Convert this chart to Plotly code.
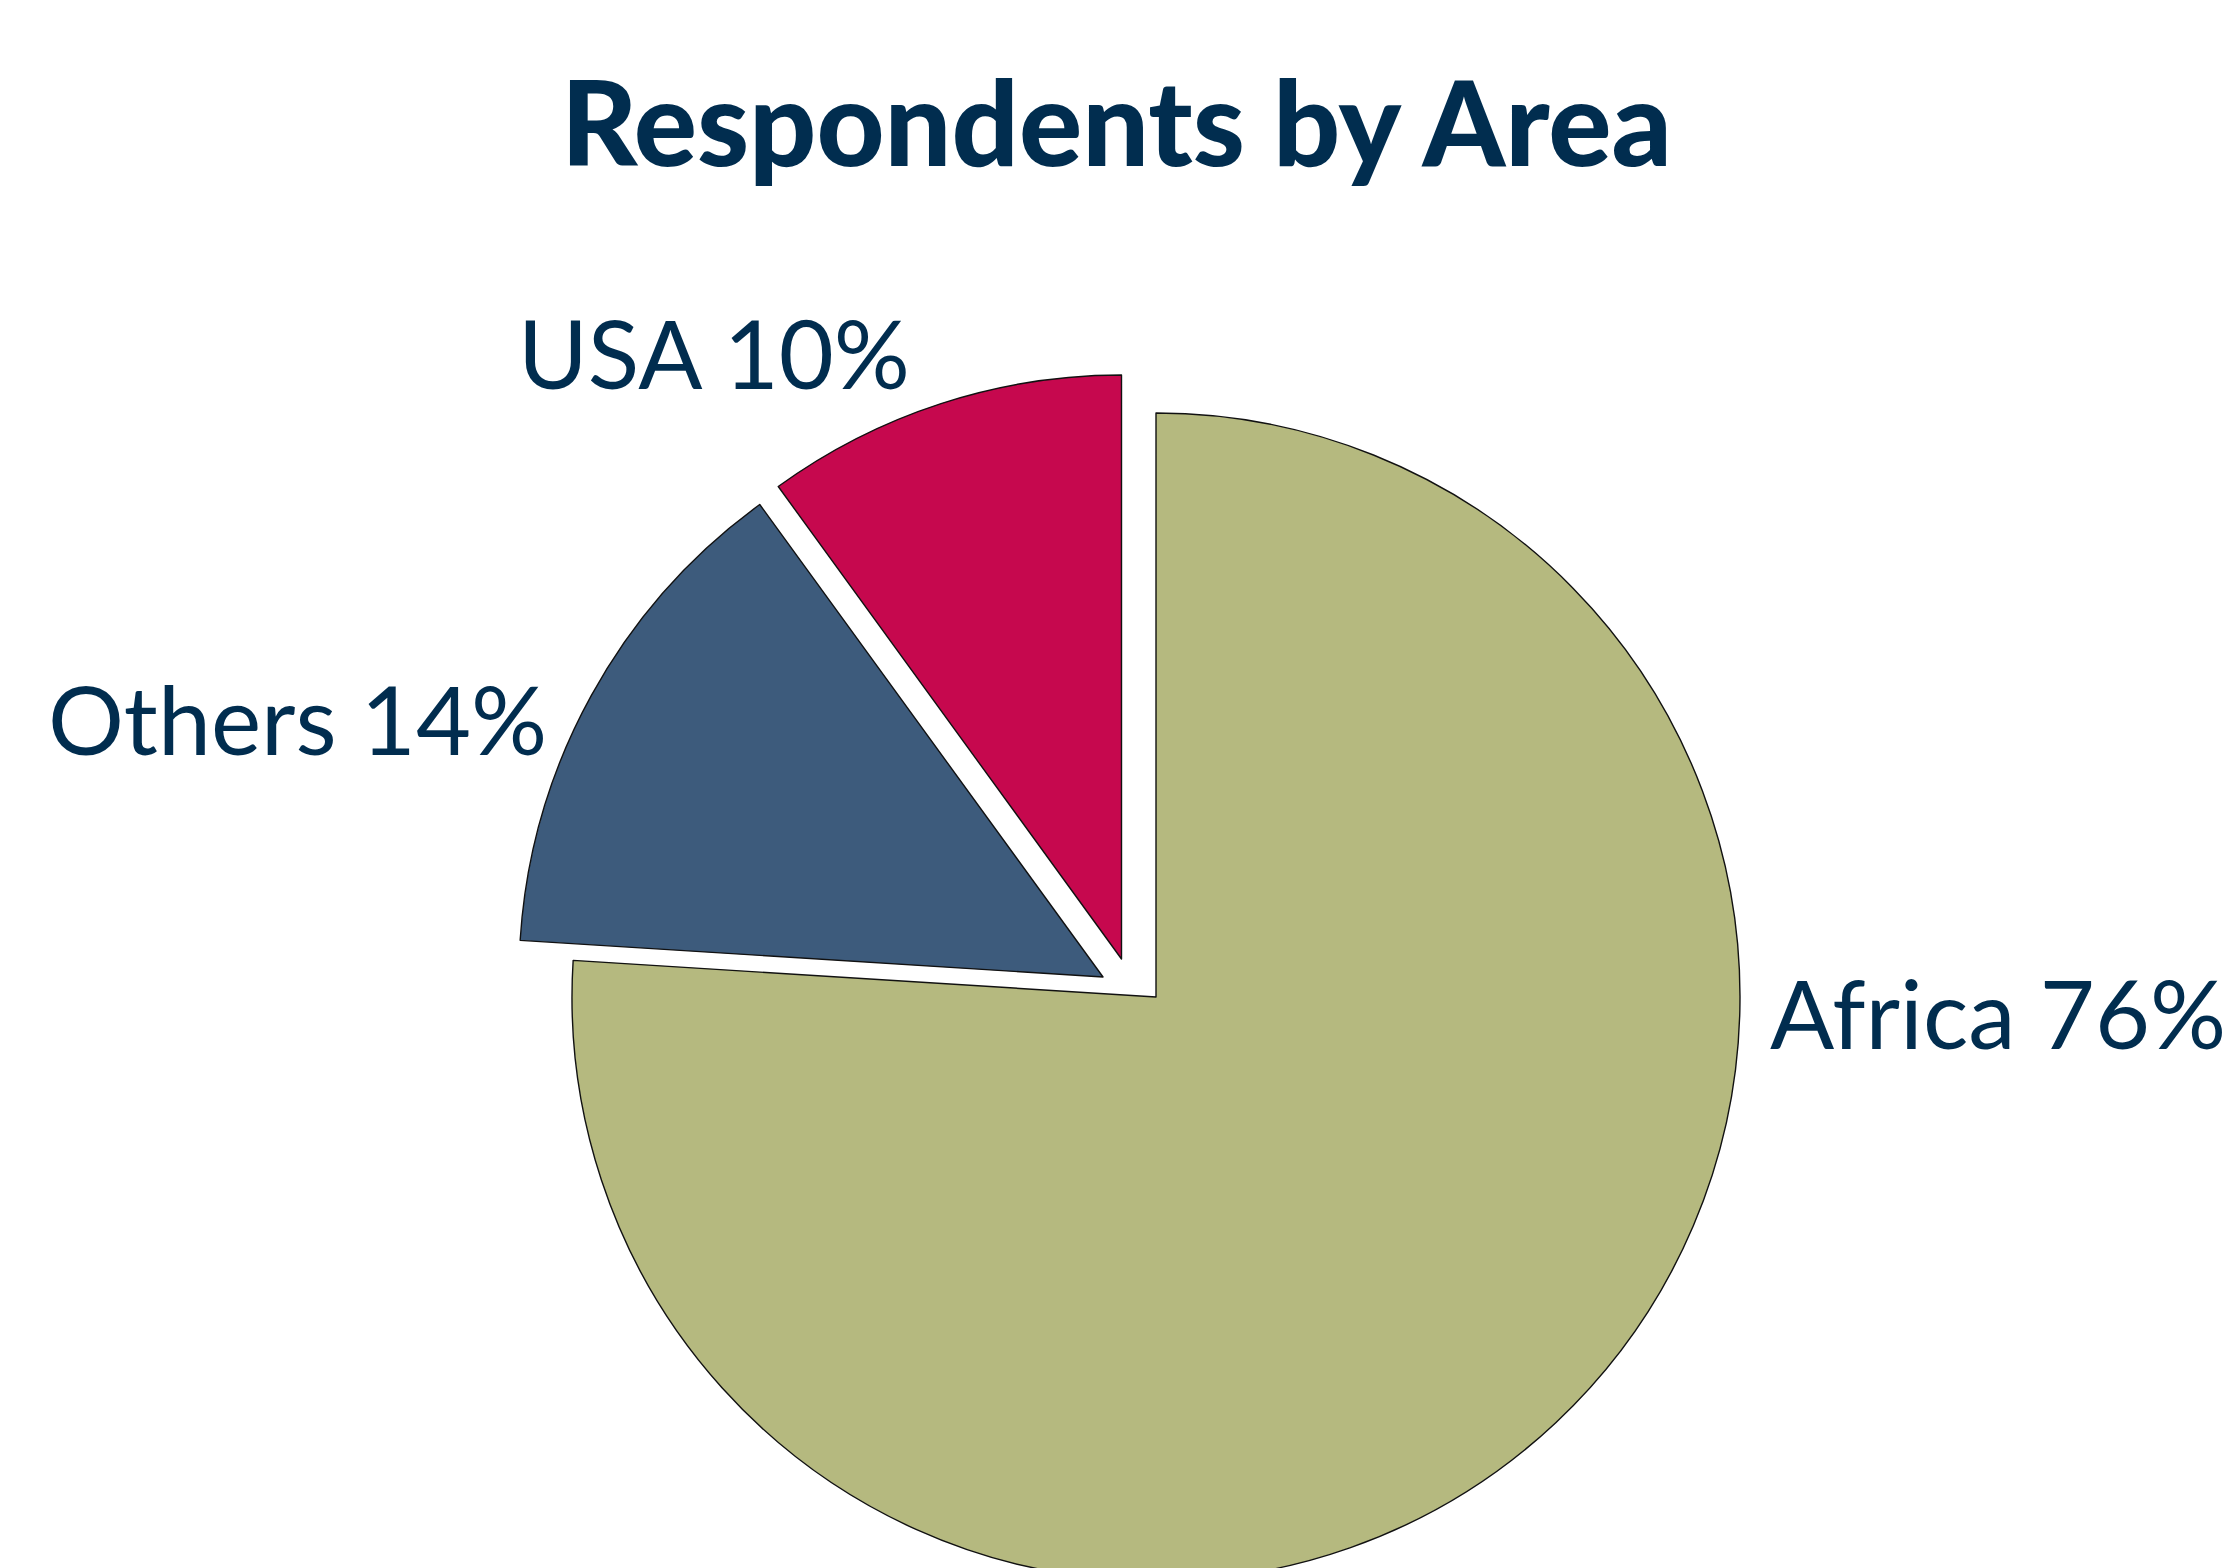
"""
Respondents by Area - exploded pie chart recreated with Plotly.
"""

import plotly.graph_objects as go

# data
areas = ["Africa", "Others", "USA"]
shares = [76, 14, 10]
slice_colors = ["#B5B97F", "#3D5B7C", "#C6084E"]

# page geometry (pixels); the page body adds an 8px margin
W, H = 2240, 1600
PAGE_OFFSET = 8
RADIUS = 584
TEXT_COLOR = "#012D4F"
FONT = "Lato"

# centre of each slice's pie on screen (the small slices are exploded up/left)
centres = {
    "Africa": (1156, 997),
    "Others": (1103, 977),
    "USA": (1121.5, 959),
}

# label anchor on screen: left edge x, cap-height centre y
label_pos = {
    "Africa": (1768, 1012),
    "Others": (46, 718),
    "USA": (516, 352),
}


def px_domain(cx, cy, r):
    """Pie domain (paper coords) giving a pie of radius r centred at (cx, cy)."""
    cx -= PAGE_OFFSET
    cy -= PAGE_OFFSET
    return dict(
        x=[(cx - r) / W, (cx + r) / W],
        y=[1 - (cy + r) / H, 1 - (cy - r) / H],
    )


def paper(x, y):
    return (x - PAGE_OFFSET) / W, 1 - (y - PAGE_OFFSET) / H


fig = go.Figure()

# one trace per slice so each slice can be shifted on its own;
# every trace holds all the values so the angles stay the same
for idx, area in enumerate(areas):
    colors = ["rgba(0,0,0,0)"] * len(areas)
    colors[idx] = slice_colors[idx]
    widths = [0] * len(areas)
    widths[idx] = 1.4
    cx, cy = centres[area]
    fig.add_trace(go.Pie(
        labels=areas,
        values=shares,
        sort=False,
        direction="clockwise",
        rotation=0,
        textinfo="none",
        hoverinfo="skip" if idx else "label+percent",
        marker=dict(colors=colors, line=dict(color="#111111", width=widths)),
        domain=px_domain(cx, cy, RADIUS),
        showlegend=False,
    ))

# slice labels
for area, share in zip(areas, shares):
    x, y = paper(*label_pos[area])
    fig.add_annotation(
        text=f"{area} {share}%",
        x=x, y=y,
        xref="paper", yref="paper",
        xanchor="left", yanchor="middle",
        showarrow=False,
        font=dict(family=FONT, size=95, color=TEXT_COLOR),
    )

# title
tx, ty = paper(1116, 121)
fig.add_annotation(
    text="Respondents by Area",
    x=tx, y=ty,
    xref="paper", yref="paper",
    xanchor="center", yanchor="middle",
    showarrow=False,
    font=dict(family=FONT, size=118, color=TEXT_COLOR, weight=900),
)

fig.update_layout(
    width=W,
    height=H,
    margin=dict(l=0, r=0, t=0, b=0),
    paper_bgcolor="white",
    plot_bgcolor="white",
)

fig.write_html("out.html")
